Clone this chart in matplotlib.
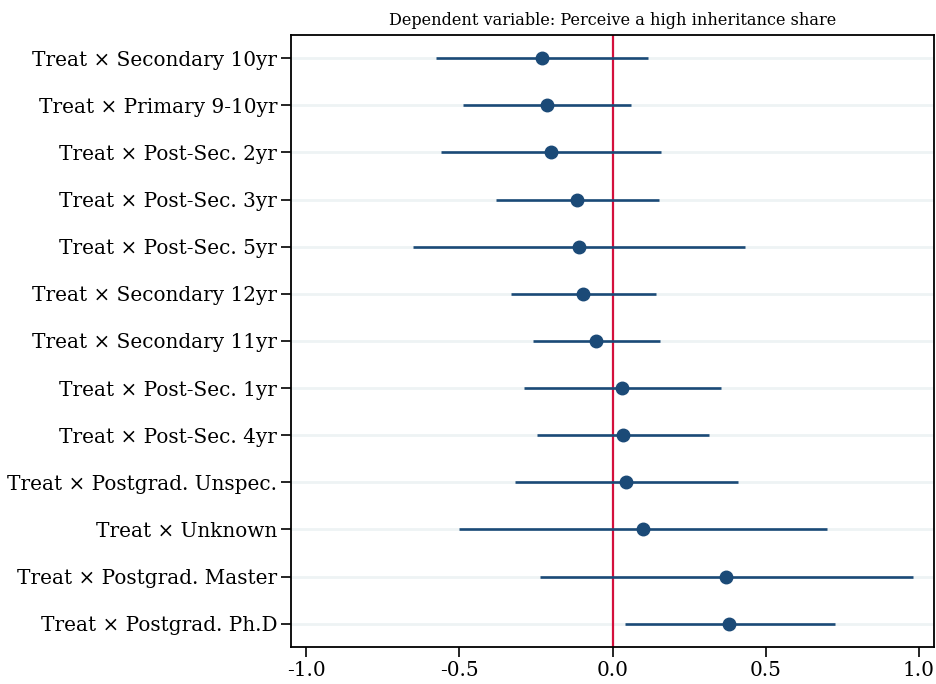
import matplotlib.pyplot as plt
import numpy as np

# 数据 (从上到下)
labels = ["Treat × Secondary 10yr", "Treat × Primary 9-10yr", "Treat × Post-Sec. 2yr",
          "Treat × Post-Sec. 3yr", "Treat × Post-Sec. 5yr", "Treat × Secondary 12yr",
          "Treat × Secondary 11yr", "Treat × Post-Sec. 1yr", "Treat × Post-Sec. 4yr",
          "Treat × Postgrad. Unspec.", "Treat × Unknown", "Treat × Postgrad. Master",
          "Treat × Postgrad. Ph.D"]
coef = [-0.230, -0.213, -0.200, -0.115, -0.111, -0.097, -0.054,
        0.031, 0.033, 0.044, 0.100, 0.370, 0.382]
ci_low = [-0.578, -0.487, -0.560, -0.380, -0.653, -0.333, -0.260,
          -0.289, -0.246, -0.320, -0.500, -0.238, 0.040]
ci_high = [0.117, 0.059, 0.158, 0.152, 0.434, 0.143, 0.155,
           0.355, 0.314, 0.411, 0.702, 0.980, 0.725]
xticks = [-1.0, -0.5, 0.0, 0.5, 1.0]

plt.rcParams["font.family"] = ["DejaVu Serif"]
plt.rcParams["axes.unicode_minus"] = False

fig = plt.figure(figsize=(9.36, 6.84), dpi=100)
ax = fig.add_axes([0.3109, 0.0537, 0.6870, 0.8956])

y = np.arange(len(labels))
navy = "#1b4a77"

# 背景横线
for yi in y:
    ax.axhline(yi, color="#eef3f4", linewidth=2.0, zorder=0)

ax.axvline(0, color="#d4103c", linewidth=1.6, zorder=1)
ax.hlines(y, ci_low, ci_high, color=navy, linewidth=1.9, zorder=2)
ax.plot(coef, y, "o", color=navy, markersize=9, zorder=3)

ax.set_xlim(-1.05, 1.05)
ax.set_ylim(len(labels) - 0.5, -0.5)
ax.set_yticks(y)
ax.set_yticklabels(labels, fontsize=14.4)
ax.set_xticks(xticks)
ax.set_xticklabels([f"{v:.1f}" for v in xticks], fontsize=14.4)
ax.tick_params(axis="both", direction="out", length=7, width=1.2, colors="black", pad=3)

for s in ax.spines.values():
    s.set_linewidth(1.3)
    s.set_color("black")

ax.set_title("Dependent variable: Perceive a high inheritance share", fontsize=11.6, pad=7)

plt.savefig("out.png", dpi=100)
